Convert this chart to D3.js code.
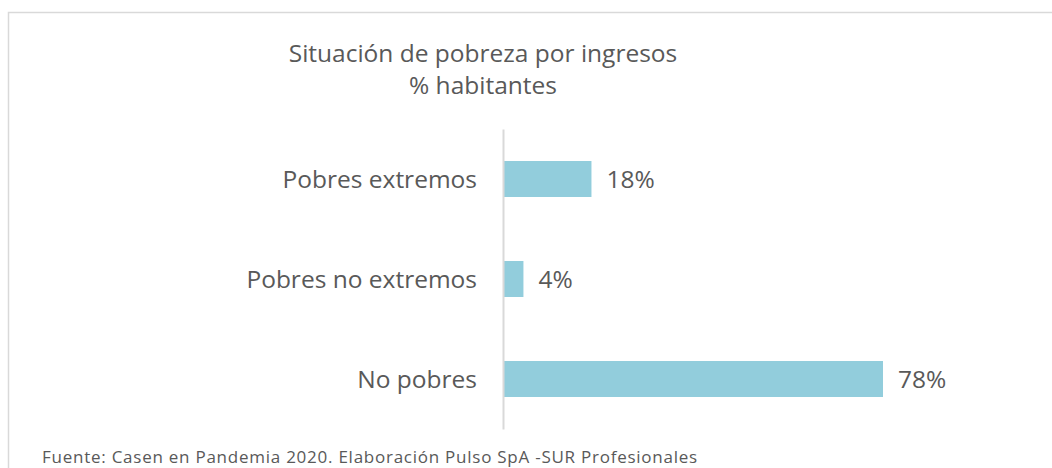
<!DOCTYPE html>
<html>
<head>
<meta charset="utf-8">
<script src="https://cdn.jsdelivr.net/npm/d3@7"></script>
<style>
  body { margin: 0; background: #fff; }
  text { font-family: "Open Sans", sans-serif; fill: #595959; }
</style>
</head>
<body>
<svg width="1052" height="468"></svg>
<script>
// chart data
const categories = ["Pobres extremos", "Pobres no extremos", "No pobres"];
const values = [18, 4, 78];
const titleLines = ["Situación de pobreza por ingresos", "% habitantes"];
const source = "Fuente: Casen en Pandemia 2020. Elaboración Pulso SpA -SUR Profesionales";

const svg = d3.select("svg"),
    width = +svg.attr("width"),
    height = +svg.attr("height");

// outer frame (runs off the right and bottom edge)
svg.append("rect")
    .attr("x", 8.5).attr("y", 12.5)
    .attr("width", width + 20).attr("height", height + 20)
    .attr("fill", "none")
    .attr("stroke", "#d9d9d9")
    .attr("stroke-width", 1.5);

// title
svg.append("g").selectAll("text")
    .data(titleLines)
    .join("text")
    .attr("x", 483)
    .attr("y", (d, i) => 62 + i * 32)
    .attr("text-anchor", "middle")
    .style("font-size", "24.5px")
    .text(d => d);

const x = d3.scaleLinear().domain([0, 78]).range([504, 883]);
const y = d3.scaleBand().domain(categories).range([129, 429])
    .paddingInner(0.64).paddingOuter(0.32);

// bars
svg.append("g").selectAll("rect")
    .data(values)
    .join("rect")
    .attr("x", x(0))
    .attr("y", (d, i) => y(categories[i]))
    .attr("width", d => x(d) - x(0))
    .attr("height", y.bandwidth())
    .attr("fill", "#92cddc");

// category axis
const yAxis = d3.axisLeft(y).tickSize(0).tickPadding(26);
const ax = svg.append("g")
    .attr("transform", "translate(" + (x(0) - 1) + ",0)")
    .call(yAxis);
ax.select(".domain").attr("stroke", "#d9d9d9").attr("stroke-width", 2);
ax.selectAll("text")
    .style("font-size", "24.5px")
    .attr("fill", "#595959")
    .attr("dy", "0.36em");

// value labels
svg.append("g").selectAll("text")
    .data(values)
    .join("text")
    .attr("x", d => x(d) + 15)
    .attr("y", (d, i) => y(categories[i]) + y.bandwidth() / 2)
    .attr("dy", "0.36em")
    .style("font-size", "24.5px")
    .text(d => d + "%");

// source note
svg.append("text")
    .attr("x", 42)
    .attr("y", 463)
    .style("font-size", "17px")
    .style("letter-spacing", "0.75px")
    .text(source);
</script>
</body>
</html>
